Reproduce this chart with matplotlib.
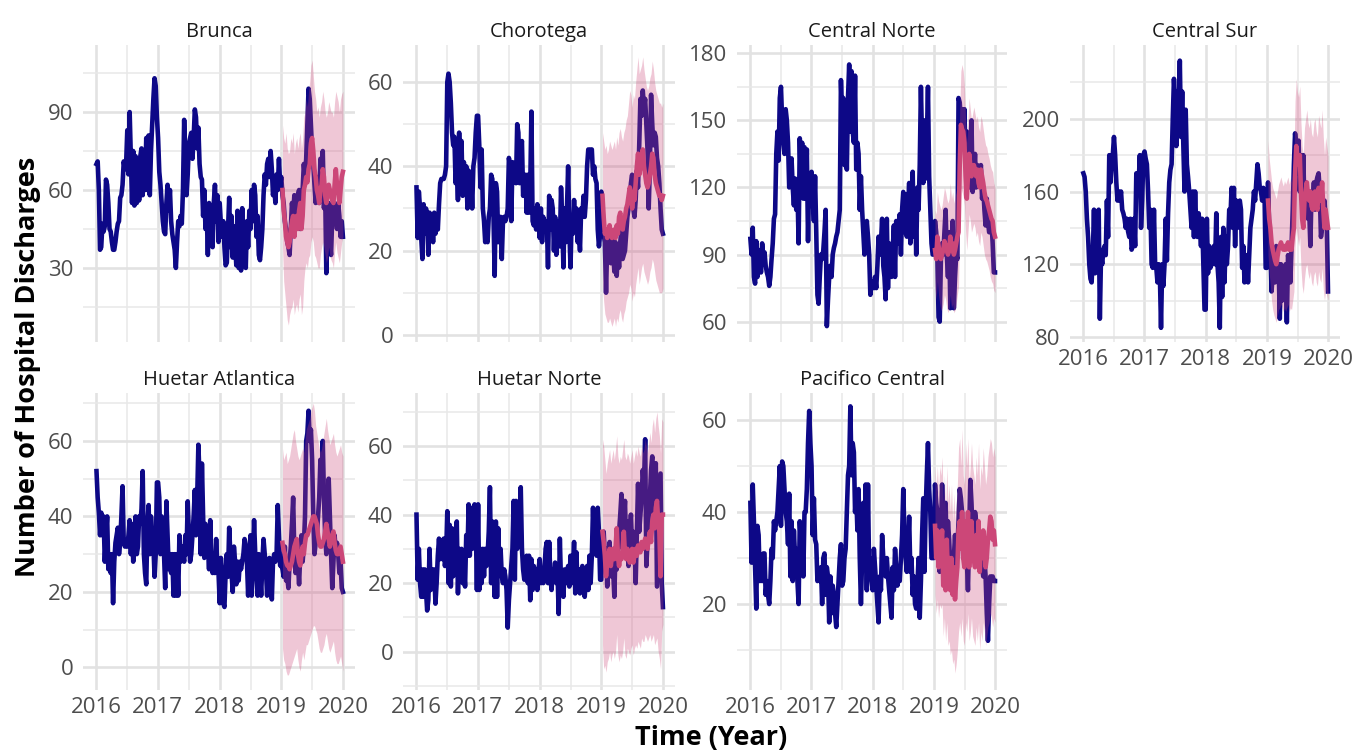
import matplotlib
matplotlib.use("Agg")
import matplotlib.pyplot as plt
import numpy as np
import pandas as pd

plt.rcParams['font.family'] = ['Open Sans', 'DejaVu Sans']

regions = ["Brunca", "Chorotega", "Central Norte", "Central Sur",
           "Huetar Atlantica", "Huetar Norte", "Pacifico Central"]

# weekly observed discharges, 2016-01-04 .. 2019-12-30 (209 weeks)
brunca_obs = [70, 71, 60, 37, 38, 47, 44, 46, 64, 62, 55, 45, 44, 40, 37, 37, 40, 44, 47, 48, 57, 58, 62, 71, 68, 70,
              83, 66, 90, 72, 55, 75, 54, 73, 55, 70, 56, 73, 76, 58, 75, 60, 80, 60, 81, 58, 75, 85, 95, 103, 100, 88,
              80, 67, 62, 55, 48, 44, 43, 55, 62, 52, 60, 48, 43, 40, 37, 30, 40, 48, 46, 50, 47, 60, 87, 70, 58, 66,
              78, 80, 82, 72, 80, 91, 88, 76, 84, 70, 65, 64, 50, 60, 45, 52, 35, 55, 45, 54, 38, 55, 62, 48, 58, 40,
              55, 47, 42, 48, 38, 31, 32, 45, 57, 38, 50, 34, 46, 40, 31, 52, 30, 44, 29, 53, 32, 47, 30, 48, 38, 52,
              45, 60, 48, 62, 58, 42, 50, 35, 33, 38, 45, 58, 66, 62, 70, 72, 65, 75, 68, 58, 62, 55, 66, 60, 72, 62,
              65, 58, 55, 48, 45, 40, 38, 35, 45, 55, 50, 58, 52, 50, 58, 60, 45, 52, 60, 70, 65, 72, 85, 99, 95, 85,
              75, 70, 62, 55, 60, 65, 55, 72, 70, 75, 53, 60, 28, 45, 55, 40, 35, 50, 55, 48, 50, 45, 55, 50, 42, 48, 42]
chorotega_obs = [35, 23, 34, 30, 23, 18, 31, 24, 30, 28, 19, 29, 25, 28, 22, 29, 24, 28, 25, 31, 36, 37, 37, 37, 38, 40,
                 60, 62, 60, 55, 48, 45, 47, 36, 40, 32, 48, 35, 46, 33, 41, 34, 40, 30, 39, 32, 38, 30, 40, 42, 48, 52,
                 52, 45, 35, 44, 30, 27, 22, 25, 22, 28, 30, 38, 37, 28, 14, 36, 34, 22, 27, 28, 18, 27, 28, 27, 28, 30,
                 42, 40, 27, 41, 37, 40, 36, 50, 48, 36, 44, 46, 33, 35, 38, 29, 38, 29, 35, 53, 27, 26, 30, 25, 31, 28,
                 23, 30, 22, 28, 25, 26, 27, 16, 33, 25, 32, 30, 20, 28, 19, 27, 25, 21, 35, 28, 16, 30, 22, 30, 40, 25,
                 16, 28, 24, 32, 25, 30, 22, 25, 20, 30, 28, 33, 28, 32, 40, 44, 43, 44, 44, 38, 40, 37, 36, 25, 21, 24,
                 34, 30, 24, 22, 10, 22, 25, 20, 17, 24, 20, 15, 22, 14, 20, 16, 22, 25, 18, 19, 20, 24, 28, 30, 32, 36,
                 38, 30, 28, 32, 39, 35, 45, 56, 52, 58, 54, 56, 50, 44, 30, 40, 57, 50, 45, 48, 47, 42, 40, 36, 30, 25, 24]
cnorte_obs = [97, 90, 102, 80, 77, 96, 80, 85, 92, 82, 95, 88, 91, 85, 82, 80, 76, 80, 88, 95, 106, 108, 135, 145, 132,
              160, 165, 150, 140, 135, 155, 150, 140, 120, 125, 133, 120, 112, 124, 110, 120, 95, 142, 120, 140, 115,
              138, 115, 137, 96, 125, 112,
              127, 115, 105, 125, 100, 72, 68, 80, 90, 88, 92, 100, 110, 58, 70, 80, 85, 80, 90, 93, 95, 98, 100, 105,
              110, 168, 150, 160, 130, 150, 128, 160, 175, 145, 172, 145, 140, 170, 128, 140, 135, 110, 125, 110, 100,
              90, 95, 105, 98, 90, 72, 78,
              78, 75, 80, 75, 85, 98, 90, 95, 106, 85, 80, 70, 106, 75, 95, 88, 80, 92, 103, 80, 105, 95, 100, 108, 90,
              110, 118, 100, 117, 98, 110, 122, 95, 115, 127, 98, 115, 90, 120, 110, 130, 165, 140, 122, 150, 124, 140,
              165, 125, 110, 95, 90,
              90, 105, 100, 90, 62, 60, 88, 95, 90, 100, 110, 90, 80, 100, 66, 95, 105, 66, 80, 90, 88, 160, 158, 150,
              155, 140, 155, 130, 145, 140, 120, 135, 150, 118, 125, 135, 120, 130, 128, 125, 130, 115, 120, 110, 103,
              115, 105, 100, 100, 105, 95, 82, 82]
csur_obs = [170, 168, 160, 145, 135, 120, 112, 110, 125, 150, 115, 148, 120, 150, 90, 125, 120, 128, 130, 125, 155, 135,
            180, 165, 175, 180, 190, 180, 165, 155, 160, 155, 160, 150, 148, 145, 140, 145, 138, 135, 145, 128, 130, 145,
            130, 170, 160, 165, 180, 140, 155, 180,
            182, 178, 175, 160, 140, 150, 120, 118, 150, 120, 118, 110, 120, 115, 85, 120, 108, 120, 145, 122, 148, 165,
            172, 175, 200, 222, 210, 185, 215, 200, 232, 190, 215, 185, 160, 205, 175, 168, 160, 150, 140, 160, 135, 160,
            140, 135, 148, 140, 130, 145, 120, 95,
            95, 145, 115, 130, 118, 125, 120, 130, 120, 148, 120, 110, 85, 135, 102, 140, 110, 135, 120, 130, 150, 145,
            162, 140, 162, 130, 155, 140, 150, 155, 150, 118, 130, 110, 120, 125, 110, 125, 140, 145, 150, 160, 155, 165,
            175, 170, 162, 160, 155, 162, 160, 118,
            118, 165, 140, 130, 105, 115, 125, 110, 130, 115, 120, 90, 120, 100, 118, 105, 120, 88, 125, 120, 110, 130,
            150, 175, 192, 185, 170, 188, 160, 180, 155, 180, 150, 165, 160, 145, 150, 130, 160, 155, 165, 150, 165, 168,
            170, 160, 135, 140, 150, 155, 145, 140, 105]
hatl_obs = [52, 45, 41, 35, 41, 35, 40, 28, 35, 40, 26, 30, 25, 30, 17, 28, 33, 35, 37, 30, 33, 40, 48, 33, 32, 33, 32,
            35, 39, 30, 38, 28, 35, 40, 30, 32, 40, 38, 42, 52, 30, 25, 22, 38, 43, 30, 40, 35, 33, 24, 30, 49,
            49, 45, 30, 40, 35, 30, 21, 44, 35, 26, 30, 25, 30, 19, 30, 19, 30, 19, 35, 28, 32, 30, 28, 35, 30, 44, 35,
            28, 30, 35, 40, 47, 35, 45, 59, 50, 30, 54, 40, 29, 38, 30, 33, 26, 39, 28, 25, 30, 25, 34, 27, 25,
            17, 29, 25, 17, 16, 25, 30, 24, 37, 30, 25, 20, 32, 28, 22, 28, 23, 28, 26, 28, 30, 34, 32, 28, 19, 30, 35,
            19, 28, 39, 30, 25, 19, 30, 25, 19, 28, 34, 30, 26, 19, 25, 29, 26, 18, 28, 30, 28, 30, 43, 35, 27,
            27, 26, 24, 32, 23, 24, 21, 28, 32, 38, 45, 30, 25, 32, 28, 22, 30, 35, 28, 32, 40, 60, 62, 68, 60, 63, 55,
            40, 30, 33, 35, 40, 45, 55, 48, 60, 45, 35, 30, 38, 50, 40, 30, 21, 28, 35, 30, 33, 30, 25, 28, 21, 20]
hnorte_obs = [40, 21, 30, 20, 16, 24, 16, 24, 18, 12, 15, 30, 18, 24, 20, 24, 14, 20, 28, 33, 27, 32, 27, 33, 25, 28,
              41, 20, 37, 19, 36, 22, 30, 25, 38, 17, 30, 25, 30, 20, 25, 19, 34, 28, 43, 28, 42, 30, 32, 43, 38, 18,
              43, 18, 30, 20, 30, 22, 30, 25, 28, 35, 48, 20, 38, 25, 16, 38, 16, 36, 24, 30, 22, 20, 24, 22, 18, 7,
              15, 20, 25, 30, 44, 21, 44, 30, 35, 40, 48, 30, 24, 21, 26, 28, 20, 28, 15, 27, 18, 25, 22, 24, 18, 24,
              27, 20, 24, 20, 24, 30, 32, 20, 32, 22, 18, 24, 22, 26, 20, 24, 11, 33, 20, 22, 16, 24, 22, 20, 25, 19,
              28, 20, 24, 32, 17, 29, 18, 24, 17, 22, 25, 20, 16, 22, 25, 18, 28, 20, 28, 42, 30, 33, 28, 42, 35, 21,
              21, 30, 35, 28, 30, 19, 25, 32, 22, 28, 24, 16, 30, 24, 32, 35, 40, 46, 30, 38, 44, 28, 38, 25, 34, 40,
              30, 35, 32, 20, 35, 49, 35, 40, 45, 53, 48, 62, 25, 32, 40, 45, 53, 57, 40, 48, 55, 19, 30, 40, 52, 20, 13]
pcentral_obs = [42, 29, 46, 38, 28, 19, 37, 35, 25, 30, 25, 31, 31, 22, 25, 22, 20, 25, 32, 30, 38, 36, 38, 40, 45,
                50, 37, 51, 50, 45, 40, 38, 33, 44, 26, 38, 25, 36, 30, 32, 25, 20, 38, 33, 35, 26, 40, 40, 45, 55, 62,
                55,
                50, 35, 43, 34, 33, 25, 26, 25, 28, 20, 30, 31, 22, 28, 26, 16, 26, 18, 24, 22, 18, 15, 20, 25, 30, 33,
                24, 25, 30, 32, 40, 48, 50, 63, 48, 55, 53, 40, 44, 36, 45, 30, 20, 30, 42, 30, 46, 23, 46, 26, 30, 25,
                23, 32, 28, 24, 20, 16, 26, 23, 35, 30, 28, 26, 30, 26, 23, 20, 17, 28, 23, 32, 28, 24, 27, 25, 30, 35,
                45, 35, 30, 27, 32, 39, 27, 30, 22, 26, 20, 19, 24, 30, 17, 25, 35, 43, 27, 40, 48, 55, 45, 40, 30, 30,
                30, 46, 42, 40, 35, 27, 35, 46, 40, 35, 42, 30, 38, 34, 28, 30, 25, 30, 35, 28, 32, 38, 45, 43, 40, 30,
                35, 38, 30, 23, 35, 47, 42, 35, 32, 40, 38, 32, 36, 34, 30, 28, 26, 30, 26, 18, 12, 20, 26, 25, 26, 25, 25]

# 2019 forecasts (52 weeks) with prediction interval
brunca_fc = [60, 52, 48, 42, 40, 38, 40, 45, 48, 50, 42, 48, 50, 45, 52, 55, 45, 50, 60, 62, 65, 63, 68, 70, 78, 80,
             75, 68, 65, 60, 58, 55, 60, 62, 68, 65, 58, 55, 58, 62, 60, 58, 56, 55, 62, 68, 62, 60, 55, 60, 65, 67]
brunca_lo = [38, 25, 20, 15, 10, 8, 12, 14, 15, 18, 12, 15, 16, 13, 18, 20, 12, 15, 25, 30, 32, 30, 34, 35, 40, 42,
             40, 35, 34, 32, 30, 30, 35, 38, 40, 38, 35, 32, 34, 38, 35, 33, 32, 30, 36, 40, 36, 34, 32, 36, 40, 42]
brunca_hi = [85, 80, 78, 82, 76, 74, 75, 80, 78, 82, 74, 78, 80, 76, 80, 82, 76, 80, 88, 90, 95, 92, 98, 102, 108, 110,
             104, 98, 95, 90, 92, 88, 92, 94, 98, 95, 90, 88, 90, 94, 92, 90, 90, 88, 94, 98, 96, 94, 90, 95, 97, 98]
chorotega_fc = [33, 28, 24, 25, 23, 24, 26, 24, 23, 24, 25, 23, 26, 24, 28, 29, 26, 25, 27, 28, 30, 31, 33, 35, 34, 30,
                33, 32, 36, 40, 43, 38, 40, 42, 44, 40, 38, 36, 35, 36, 38, 40, 43, 42, 38, 36, 35, 34, 33, 33, 32, 33]
chorotega_lo = [12, 8, 5, 4, 3, 3, 4, 3, 2, 3, 4, 2, 4, 3, 5, 6, 4, 3, 5, 6, 8, 9, 10, 12, 11, 8, 10, 9, 12, 14, 16,
                12, 14, 16, 17, 15, 14, 13, 12, 13, 15, 16, 18, 17, 15, 13, 12, 11, 10, 10, 10, 11]
chorotega_hi = [48, 46, 44, 45, 43, 44, 46, 45, 44, 45, 46, 44, 47, 45, 48, 49, 47, 46, 48, 49, 51, 52, 55, 58, 57, 54,
                57, 56, 60, 63, 66, 62, 63, 64, 66, 63, 61, 59, 58, 59, 61, 62, 65, 63, 60, 58, 57, 56, 55, 55, 54, 55]
cnorte_fc = [92, 88, 98, 94, 90, 88, 90, 92, 96, 94, 92, 90, 92, 98, 92, 95, 90, 92, 95, 98, 100, 130, 148, 146, 145,
             140, 125, 115, 125, 135, 130, 125, 128, 130, 128, 125, 128, 122, 120, 128, 125, 122, 118, 115, 114, 112,
             110, 108, 106, 105, 100, 98]
cnorte_lo = [75, 70, 78, 72, 68, 65, 66, 68, 72, 70, 66, 64, 66, 72, 66, 68, 64, 65, 68, 72, 76, 105, 120, 118, 116,
             112, 100, 92, 100, 108, 105, 100, 102, 104, 102, 98, 100, 96, 94, 100, 98, 94, 90, 88, 87, 85, 83, 80, 78,
             77, 74, 73]
cnorte_hi = [110, 108, 118, 114, 112, 110, 112, 116, 120, 118, 115, 113, 115, 122, 115, 118, 113, 116, 118, 122, 125,
             155, 172, 175, 172, 165, 150, 140, 150, 160, 155, 150, 153, 156, 153, 150, 152, 147, 145, 152, 150, 146,
             142, 139, 138, 135, 133, 130, 128, 127, 122, 120]
csur_fc = [155, 145, 140, 132, 128, 125, 122, 120, 124, 128, 130, 132, 130, 128, 130, 128, 130, 132, 128, 130, 128, 135,
           140, 170, 185, 178, 175, 180, 160, 145, 140, 155, 160, 165, 158, 155, 160, 152, 150, 158, 160, 152, 150, 162,
           158, 155, 165, 150, 140, 150, 145, 140]
csur_lo = [125, 115, 108, 100, 95, 92, 90, 88, 92, 95, 96, 98, 96, 94, 96, 94, 96, 98, 94, 96, 95, 100, 105, 130, 140,
           135, 130, 135, 118, 108, 104, 112, 118, 120, 115, 112, 116, 110, 108, 114, 116, 110, 108, 116, 112, 110, 118,
           106, 100, 106, 103, 100]
csur_hi = [188, 178, 172, 166, 162, 160, 158, 156, 160, 164, 166, 168, 165, 163, 166, 164, 166, 168, 164, 167, 165, 172,
           178, 210, 222, 215, 212, 218, 198, 185, 180, 195, 200, 205, 198, 195, 200, 192, 190, 198, 200, 193, 190, 202,
           198, 195, 205, 190, 180, 190, 185, 180]
hatl_fc = [33, 31, 30, 28, 27, 27, 26, 27, 28, 30, 32, 33, 34, 30, 28, 27, 30, 32, 30, 33, 35, 35, 36, 37, 38, 39, 40,
           40, 39, 38, 35, 33, 32, 32, 33, 34, 36, 38, 36, 34, 32, 34, 35, 36, 33, 31, 30, 30, 31, 32, 30, 28]
hatl_lo = [5, 2, 1, -1, -2, -2, -1, 0, 1, 2, 3, 4, 5, 2, 0, -1, 2, 4, 2, 4, 6, 6, 7, 8, 9, 10, 11, 11, 10, 9, 7, 5, 4,
           4, 5, 6, 8, 9, 7, 5, 4, 5, 6, 7, 4, 2, 1, 1, 2, 3, 1, -1]
hatl_hi = [58, 55, 56, 57, 54, 55, 56, 58, 60, 62, 63, 60, 58, 56, 55, 56, 57, 58, 57, 60, 63, 64, 65, 66, 68, 69, 70,
           68, 64, 62, 60, 58, 57, 58, 60, 62, 64, 66, 63, 61, 59, 60, 61, 62, 59, 57, 56, 57, 58, 59, 57, 56]
hnorte_fc = [35, 32, 28, 22, 26, 28, 30, 25, 28, 30, 27, 30, 36, 28, 25, 28, 27, 30, 35, 28, 27, 30, 28, 26, 28, 30, 26,
             28, 30, 28, 31, 30, 29, 32, 30, 31, 33, 31, 30, 33, 35, 32, 38, 40, 36, 42, 44, 38, 35, 22, 40, 40]
hnorte_lo = [2, -5, -4, -6, -3, -2, 0, -3, -1, 0, -2, 0, 5, -1, -3, -1, -2, 0, 4, -1, -2, 1, 0, -1, 1, 2, -1, 1, 2, 1,
             3, 2, 1, 4, 3, 3, 5, 4, 3, 4, 5, 3, 4, 5, 2, 3, 4, 0, -2, -5, 6, 8]
hnorte_hi = [62, 60, 56, 52, 55, 57, 59, 55, 57, 59, 56, 59, 63, 57, 55, 57, 56, 59, 62, 57, 56, 58, 57, 55, 57, 59, 55,
             57, 59, 57, 60, 58, 57, 60, 58, 59, 62, 60, 58, 61, 64, 61, 66, 68, 64, 68, 70, 66, 63, 58, 68, 67]
pcentral_fc = [37, 30, 36, 28, 35, 33, 36, 24, 32, 23, 34, 25, 30, 23, 30, 22, 28, 21, 25, 28, 36, 38, 32, 40, 30, 28,
               38, 33, 40, 28, 33, 38, 32, 30, 28, 35, 30, 38, 27, 33, 30, 36, 33, 28, 30, 34, 36, 39, 38, 34, 36, 33]
pcentral_lo = [22, 18, 21, 17, 20, 19, 20, 13, 17, 12, 16, 11, 12, 9, 10, 7, 8, 5, 7, 10, 14, 16, 13, 17, 12, 11, 16,
               14, 18, 12, 14, 17, 13, 12, 11, 15, 12, 16, 10, 14, 12, 16, 14, 11, 13, 15, 16, 18, 17, 15, 17, 16]
pcentral_hi = [50, 45, 50, 44, 50, 48, 52, 42, 48, 40, 50, 42, 46, 40, 46, 38, 44, 38, 42, 46, 54, 56, 50, 58, 48, 46,
               55, 50, 56, 46, 50, 55, 50, 48, 46, 52, 48, 55, 45, 50, 48, 54, 50, 46, 48, 52, 54, 56, 55, 52, 54, 52]

observed = [brunca_obs, chorotega_obs, cnorte_obs, csur_obs, hatl_obs, hnorte_obs, pcentral_obs]
forecast = [brunca_fc, chorotega_fc, cnorte_fc, csur_fc, hatl_fc, hnorte_fc, pcentral_fc]
lower = [brunca_lo, chorotega_lo, cnorte_lo, csur_lo, hatl_lo, hnorte_lo, pcentral_lo]
upper = [brunca_hi, chorotega_hi, cnorte_hi, csur_hi, hatl_hi, hnorte_hi, pcentral_hi]

for name, o, f, l, u in zip(regions, observed, forecast, lower, upper):
    assert len(o) == 209, (name, len(o))
    assert len(f) == len(l) == len(u) == 52, (name, len(f), len(l), len(u))

weeks = pd.date_range("2016-01-04", periods=209, freq="7D")
x_obs = 2016 + (weeks - pd.Timestamp("2016-01-01")).days.values / 365.25
x_fc = x_obs[157:]

# per-panel y scale (limits, major, minor)
yscales = [
    ((1.5, 115.8), [30, 60, 90], [15, 45, 75, 105]),
    ((-1.7, 68.8), [0, 20, 40, 60], [10, 30, 50]),
    ((50.9, 183.7), [60, 90, 120, 150, 180], [75, 105, 135, 165]),
    ((77.2, 240.6), [80, 120, 160, 200], [100, 140, 180, 220]),
    ((-6.0, 72.7), [0, 20, 40, 60], [10, 30, 50, 70]),
    ((-11.2, 75.5), [0, 20, 40, 60], [-10, 10, 30, 50, 70]),
    ((1.3, 65.9), [20, 40, 60], [10, 30, 50]),
]

W, H = 1357, 751
fig = plt.figure(figsize=(W / 100, H / 100), dpi=100)
cols = [(83, 355), (403, 675), (737, 1007), (1070, 1340)]
rows = [(45, 342), (393, 690)]

obs_col = "#0D0887"
fc_col = "#CC4778"

for k, name in enumerate(regions):
    r, c = divmod(k, 4)
    x0, x1 = cols[c]
    y0, y1 = rows[r]
    ax = fig.add_axes([x0 / W, 1 - y1 / H, (x1 - x0) / W, (y1 - y0) / H])
    for s in ax.spines.values():
        s.set_visible(False)

    ax.plot(x_obs, observed[k], color=obs_col, lw=3.3, solid_joinstyle="round", zorder=2)
    ax.fill_between(x_fc, lower[k], upper[k], color=fc_col, alpha=0.3, lw=0, zorder=3)
    ax.plot(x_fc, forecast[k], color=fc_col, lw=3.3, solid_joinstyle="round", zorder=4)

    ylim, major, minor = yscales[k]
    ax.set_ylim(*ylim)
    ax.set_yticks(major)
    ax.set_yticks(minor, minor=True)
    ax.set_xlim(2015.79, 2020.19)
    ax.set_xticks([2016, 2017, 2018, 2019, 2020])
    ax.set_xticks([2016.5, 2017.5, 2018.5, 2019.5], minor=True)
    ax.grid(which="major", color="#E2E2E2", lw=1.9, zorder=0)
    ax.grid(which="minor", color="#E8E8E8", lw=1.1, zorder=0)
    ax.set_axisbelow(True)
    ax.tick_params(which="both", length=0, labelsize=16, labelcolor="#4D4D4D")
    ax.tick_params(axis="y", pad=7)
    ax.tick_params(axis="x", pad=5)
    show_x = (r == 1) or (c == 3)
    if show_x:
        ax.set_xticklabels(["2016", "2017", "2018", "2019", "2020"])
    else:
        ax.set_xticklabels([])
    ax.set_title(name, fontsize=14.5, color="#1A1A1A", pad=6)

fig.text((83 + 1340) / 2 / W, 1 - 738 / H, "Time (Year)", ha="center", va="center",
         fontsize=19.5, fontweight="bold", color="black")
fig.text(28 / W, 1 - 367 / H, "Number of Hospital Discharges", ha="center", va="center",
         rotation=90, fontsize=19.5, fontweight="bold", color="black")

fig.savefig("out.png", dpi=100, facecolor="white")
